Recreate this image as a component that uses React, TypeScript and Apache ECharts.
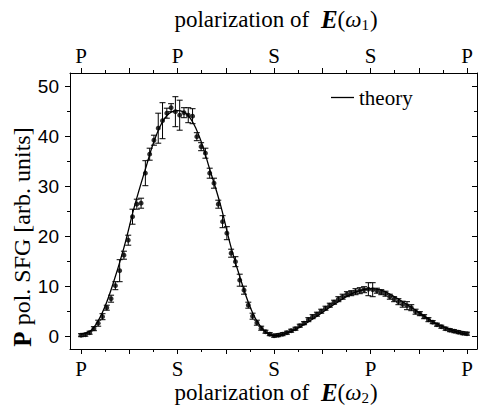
import React, { useEffect, useRef } from 'react';
import * as echarts from 'echarts';

// Theory curve
const theoryAngles = [0, 10, 20, 30, 40, 50, 60, 70, 80, 90, 100, 110, 120, 130, 140, 150, 160, 170, 180,
  190, 200, 210, 220, 230, 240, 250, 260, 270, 280, 290, 300, 310, 320, 330, 340, 350, 360];
const theoryValues = [0.5, 1.4, 4.9, 10.7, 17.8, 26.2, 33.5, 40.2, 44.2, 45.2, 44.2, 40.2, 33.5, 26.4, 17.8, 10.7, 4.8, 1.4, 0.2,
  0.6, 1.4, 2.7, 4.1, 5.6, 7.0, 8.3, 9.2, 9.6, 9.3, 8.3, 7.0, 5.6, 4.1, 2.8, 1.8, 1.0, 0.5];

// Measured points with error bars
const pointAngles = [0, 4, 8, 12, 16, 20, 24, 28, 32, 36, 40, 44, 48, 52, 56, 60, 64, 68, 72, 76, 80, 84, 88, 92, 96, 100,
  104, 108, 112, 116, 120, 124, 128, 132, 136, 140, 144, 148, 152, 156, 160, 164, 168, 172, 176, 180, 184, 188, 192, 196,
  200, 204, 208, 212, 216, 220, 224, 228, 232, 236, 240, 244, 248, 252, 256, 260, 264, 268, 272, 276, 280, 284, 288, 292,
  296, 300, 304, 308, 312, 316, 320, 324, 328, 332, 336, 340, 344, 348, 352, 356, 360];
const pointValues = [0.3, 0.4, 0.8, 1.6, 2.7, 4.0, 5.8, 7.6, 10.2, 13.2, 16.3, 19.3, 24.0, 26.5, 26.7, 32.7, 36.5, 39.3, 41.7,
  43.2, 44.7, 45.8, 45.0, 44.3, 44.8, 44.3, 44.1, 40.0, 38.0, 36.7, 32.7, 30.7, 26.5, 23.0, 20.7, 16.7, 15.0, 11.3, 9.3, 6.3,
  4.1, 2.8, 1.7, 1.0, 0.5, 0.2, 0.3, 0.5, 0.8, 1.2, 1.6, 2.2, 2.7, 3.4, 4.0, 4.5, 5.1, 5.7, 6.3, 6.9, 7.5, 8.0, 8.5, 8.7,
  9.0, 9.2, 9.4, 9.5, 9.4, 9.2, 8.9, 8.6, 8.0, 7.5, 7.0, 6.5, 6.2, 5.8, 5.0, 4.6, 4.0, 3.4, 2.9, 2.4, 2.0, 1.6, 1.3, 1.1,
  0.9, 0.7, 0.6];
const pointErrors = [0.3, 0.3, 0.3, 0.4, 0.6, 0.6, 0.5, 0.7, 0.8, 2.2, 0.8, 1.0, 1.5, 1.0, 1.0, 2.5, 1.2, 1.0, 3.0,
  3.6, 1.0, 0.8, 3.0, 3.0, 1.0, 1.5, 1.5, 0.8, 0.8, 1.0, 1.0, 1.0, 0.8, 1.2, 1.3, 0.8, 1.0, 1.2, 0.8, 0.6,
  0.6, 0.5, 0.4, 0.3, 0.3, 0.3, 0.3, 0.3, 0.3, 0.3, 0.3, 0.3, 0.3, 0.4, 0.4, 0.4, 0.4, 0.4, 0.4, 0.4, 0.5, 0.5, 0.5, 0.5,
  0.6, 0.6, 0.6, 1.3, 1.4, 0.5, 0.5, 0.5, 0.5, 0.5, 0.6, 0.6, 0.8, 0.6, 0.5, 0.4, 0.4, 0.4, 0.3, 0.3, 0.3, 0.3, 0.3, 0.3,
  0.3, 0.3, 0.3];

// Axes
const yTicks = [0, 10, 20, 30, 40, 50];
const yMinorTicks = [5, 15, 25, 35, 45];
const xLabelAngles = [0, 90, 180, 270, 360];
const xMajorTicks = [0, 45, 90, 135, 180, 225, 270, 315, 360];
const xMinorTicks = [22.5, 67.5, 112.5, 157.5, 202.5, 247.5, 292.5, 337.5];
const bottomLabels = ['P', 'S', 'S', 'P', 'P'];
const topLabels = ['P', 'P', 'S', 'S', 'P'];

const SERIF = '"Liberation Serif", "Times New Roman", serif';
const SANS = '"Liberation Sans", Arial, sans-serif';
const X_MIN = -10.3;
const X_MAX = 369.3;
const Y_MIN = -2.46;
const Y_MAX = 52.74;

const titleRich = {
  n: { fontFamily: SERIF, fontSize: 23, fill: '#000' },
  g: { fontFamily: SERIF, fontSize: 23, fill: '#000', padding: [0, 6, 0, 0] },
  e: { fontFamily: SERIF, fontSize: 25, fontWeight: 'bold', fontStyle: 'italic', fill: '#000' },
  w: { fontFamily: SERIF, fontSize: 23, fontStyle: 'italic', fill: '#000' },
  s: { fontFamily: SERIF, fontSize: 15, fill: '#000', padding: [11, 1, 0, 0] },
};

export default function App() {
  const ref = useRef<HTMLDivElement>(null);
  useEffect(() => {
    const chart = echarts.init(ref.current!, null, { renderer: 'svg' });

    const mkX = (position: 'top' | 'bottom', major: boolean, labels: string[]) => ({
      type: 'value',
      gridIndex: 0,
      position,
      min: X_MIN,
      max: X_MAX,
      axisLine: { show: major, onZero: false, lineStyle: { color: '#000', width: 1 } },
      axisTick: {
        show: true,
        inside: false,
        length: major ? 5 : 3,
        customValues: major ? xMajorTicks : xMinorTicks,
        lineStyle: { color: '#000', width: 1 },
      },
      axisLabel: major
        ? {
            show: true,
            customValues: xLabelAngles,
            formatter: (v: number) => {
              const i = xLabelAngles.findIndex((a) => Math.abs(a - v) < 1e-6);
              return i >= 0 ? labels[i] : '';
            },
            fontFamily: SERIF,
            fontSize: 21,
            color: '#000',
            margin: position === 'bottom' ? 9 : 7,
          }
        : { show: false },
      splitLine: { show: false },
    });

    const mkY = (position: 'left' | 'right', major: boolean) => ({
      type: 'value',
      gridIndex: 0,
      position,
      min: Y_MIN,
      max: Y_MAX,
      axisLine: { show: major, onZero: false, lineStyle: { color: '#000', width: 1 } },
      axisTick: {
        show: true,
        inside: position === 'right',
        length: major ? 5 : 3,
        customValues: major ? yTicks : yMinorTicks,
        lineStyle: { color: '#000', width: 1 },
      },
      axisLabel:
        major && position === 'left'
          ? {
              show: true,
              customValues: yTicks,
              formatter: (v: number) => String(Math.round(v)),
              fontFamily: SANS,
              fontSize: 19,
              color: '#000',
              margin: 11,
            }
          : { show: false },
      splitLine: { show: false },
    });

    const theoryData = theoryAngles.map((a, i) => [a, theoryValues[i]]);
    const pointData = pointAngles.map((a, i) => [a, pointValues[i]]);
    const errData = pointAngles.map((a, i) => [a, pointValues[i] - pointErrors[i], pointValues[i] + pointErrors[i]]);

    const option: any = {
      animation: false,
      backgroundColor: '#fff',
      grid: { left: 70, top: 73, width: 407, height: 276, containLabel: false },
      legend: {
        data: ['theory'],
        left: 326,
        top: 82,
        icon: 'rect',
        itemWidth: 23,
        itemHeight: 1.3,
        itemGap: 5,
        textStyle: { fontFamily: SERIF, fontSize: 21, color: '#000' },
      },
      xAxis: [
        mkX('bottom', true, bottomLabels),
        mkX('bottom', false, bottomLabels),
        mkX('top', true, topLabels),
        mkX('top', false, topLabels),
      ],
      yAxis: [mkY('left', true), mkY('left', false), mkY('right', true), mkY('right', false)],
      graphic: [
        {
          type: 'text',
          x: 276,
          y: 19,
          style: {
            text: '{g|polarization of }{e|E}{n|(}{w|ω}{s|1}{n|)}',
            align: 'center',
            verticalAlign: 'middle',
            rich: titleRich,
          },
        },
        {
          type: 'text',
          x: 276,
          y: 392,
          style: {
            text: '{g|polarization of }{e|E}{n|(}{w|ω}{s|2}{n|)}',
            align: 'center',
            verticalAlign: 'middle',
            rich: titleRich,
          },
        },
        {
          type: 'text',
          x: 22,
          y: 237,
          rotation: Math.PI / 2,
          style: {
            text: '{b|P}{n| pol. SFG [arb. units]}',
            align: 'center',
            verticalAlign: 'middle',
            rich: {
              b: { fontFamily: SERIF, fontSize: 25, fontWeight: 'bold', fill: '#000' },
              n: { fontFamily: SERIF, fontSize: 24, fill: '#000' },
            },
          },
        },
      ],
      series: [
        {
          name: 'theory',
          type: 'line',
          xAxisIndex: 0,
          yAxisIndex: 0,
          data: theoryData,
          smooth: 0.4,
          showSymbol: false,
          symbol: 'none',
          lineStyle: { color: '#000', width: 1.3 },
          itemStyle: { color: '#000' },
          z: 3,
        },
        {
          name: 'errors',
          type: 'custom',
          xAxisIndex: 0,
          yAxisIndex: 0,
          data: errData,
          renderItem: (params: any, api: any) => {
            const x = api.value(0);
            const lo = api.coord([x, api.value(1)]);
            const hi = api.coord([x, api.value(2)]);
            const cap = 3;
            const style = { stroke: '#000', lineWidth: 1 };
            return {
              type: 'group',
              children: [
                { type: 'line', shape: { x1: lo[0], y1: lo[1], x2: hi[0], y2: hi[1] }, style },
                { type: 'line', shape: { x1: lo[0] - cap, y1: lo[1], x2: lo[0] + cap, y2: lo[1] }, style },
                { type: 'line', shape: { x1: hi[0] - cap, y1: hi[1], x2: hi[0] + cap, y2: hi[1] }, style },
              ],
            };
          },
          z: 4,
        },
        {
          name: 'data',
          type: 'scatter',
          xAxisIndex: 0,
          yAxisIndex: 0,
          data: pointData,
          symbol: 'circle',
          symbolSize: 5,
          itemStyle: { color: '#000' },
          z: 5,
        },
      ],
    };
    chart.setOption(option);
    return () => chart.dispose();
  }, []);
  return <div ref={ref} style={{ position: 'absolute', left: 0, top: 0, width: 478, height: 408 }} />;
}
